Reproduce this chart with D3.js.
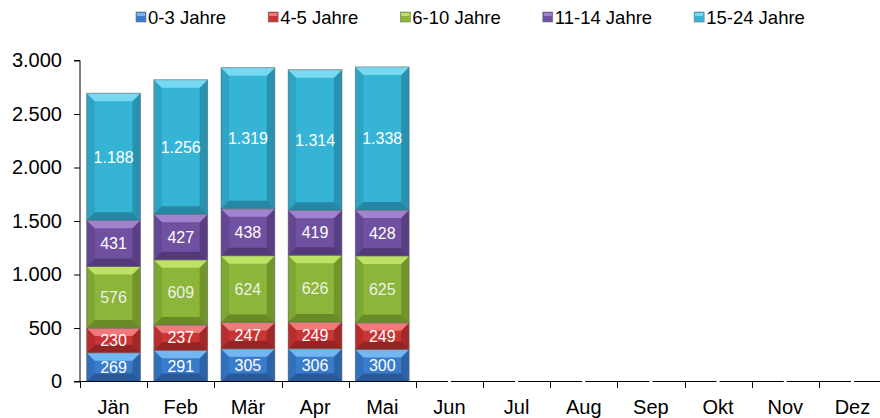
<!DOCTYPE html>
<html lang="de">
<head>
<meta charset="utf-8">
<title>Altersgruppen</title>
<script src="https://d3js.org/d3.v7.min.js"></script>
<style>
  body { margin: 0; background: #fff; }
  svg { font-family: "Liberation Sans", Arial, sans-serif; }
</style>
</head>
<body>
<script>
// data
var months = ["Jän", "Feb", "Mär", "Apr", "Mai", "Jun", "Jul", "Aug", "Sep", "Okt", "Nov", "Dez"];
var groups = ["0-3 Jahre", "4-5 Jahre", "6-10 Jahre", "11-14 Jahre", "15-24 Jahre"];
var age0to3 = [269, 291, 305, 306, 300];
var age4to5 = [230, 237, 247, 249, 249];
var age6to10 = [576, 609, 624, 626, 625];
var age11to14 = [431, 427, 438, 419, 428];
var age15to24 = [1188, 1256, 1319, 1314, 1338];
var yTicks = [0, 500, 1000, 1500, 2000, 2500, 3000];

// face / light / dark colours per series
var colors = [
  {face: "#3a7ccc", light: "#74b6f2", dark: "#28599a", side: "#3170bd"},
  {face: "#c93434", light: "#f07a7a", dark: "#952424", side: "#b82e2e"},
  {face: "#8cb63a", light: "#bde266", dark: "#688a27", side: "#7ea633"},
  {face: "#7050a0", light: "#a083cc", dark: "#523a78", side: "#654893"},
  {face: "#35b4d6", light: "#78daf2", dark: "#2587a3", side: "#2fa3c3"}
];
var labelColor = ["#fff", "#fff", "#eef0e6", "#fff", "#fff"];

var w = 880, h = 418;

var de = d3.formatLocale({decimal: ",", thousands: ".", grouping: [3], currency: ["€", ""]});
var fmt = de.format(",");

var svg = d3.select("body").append("svg")
  .attr("width", w)
  .attr("height", h);

var x = d3.scaleBand()
  .domain(months)
  .range([80, 886])
  .paddingInner(0.2)
  .paddingOuter(0.1);

var y = d3.scaleLinear()
  .domain([0, 3000])
  .range([381.5, 60.5]);

// stack table built from the arrays
var table = months.map(function (m, i) {
  return {
    month: m,
    s0: age0to3[i] || 0, s1: age4to5[i] || 0, s2: age6to10[i] || 0,
    s3: age11to14[i] || 0, s4: age15to24[i] || 0,
    has: age0to3[i] != null
  };
});
var stack = d3.stack().keys(["s0", "s1", "s2", "s3", "s4"]);
var series = stack(table);

// y axis
var yAxis = d3.axisLeft(y)
  .tickValues(yTicks)
  .tickSize(6)
  .tickPadding(12)
  .tickFormat(fmt);

svg.append("g")
  .attr("transform", "translate(80,0)")
  .call(yAxis)
  .call(function (g) {
    g.select(".domain").attr("stroke", "#000").attr("d", "M-6,60.5H0V381.5");
    g.selectAll("text").attr("font-size", 20).attr("fill", "#000")
      .attr("font-family", "Liberation Sans, Arial, sans-serif");
  });

// bars with bevel
function bevelSeg(g, x0, y0, bw, bh, c) {
  var b = Math.min(8, bh / 3, bw / 4);
  var x1 = x0 + bw, y1 = y0 + bh;
  g.append("rect").attr("x", x0).attr("y", y0).attr("width", bw).attr("height", bh)
    .attr("fill", c.face);
  // left side
  g.append("path").attr("fill", c.side)
    .attr("d", "M" + x0 + "," + y0 + "L" + (x0 + b) + "," + (y0 + b) + "L" + (x0 + b) + "," + (y1 - b) + "L" + x0 + "," + y1 + "Z");
  // right side
  g.append("path").attr("fill", c.dark).attr("opacity", 0.75)
    .attr("d", "M" + x1 + "," + y0 + "L" + (x1 - b) + "," + (y0 + b) + "L" + (x1 - b) + "," + (y1 - b) + "L" + x1 + "," + y1 + "Z");
  // top
  g.append("path").attr("fill", c.light)
    .attr("d", "M" + x0 + "," + y0 + "L" + x1 + "," + y0 + "L" + (x1 - b) + "," + (y0 + b) + "L" + (x0 + b) + "," + (y0 + b) + "Z");
  // bottom
  g.append("path").attr("fill", c.dark)
    .attr("d", "M" + x0 + "," + y1 + "L" + x1 + "," + y1 + "L" + (x1 - b) + "," + (y1 - b) + "L" + (x0 + b) + "," + (y1 - b) + "Z");
  g.append("rect").attr("x", x0).attr("y", y0).attr("width", bw).attr("height", bh)
    .attr("fill", "none").attr("stroke", "#6d6d6d").attr("stroke-opacity", 0.6).attr("stroke-width", 1);
}

series.forEach(function (s, si) {
  var g = svg.append("g").attr("class", "series-" + si);
  s.forEach(function (d) {
    if (!d.data.has) return;
    var x0 = x(d.data.month), y0 = y(d[1]), y1 = y(d[0]);
    bevelSeg(g, x0, y0, x.bandwidth(), y1 - y0, colors[si]);
    g.append("text")
      .attr("x", x0 + x.bandwidth() / 2)
      .attr("y", (y0 + y1) / 2)
      .attr("dy", "0.36em")
      .attr("text-anchor", "middle")
      .attr("font-size", 16)
      .attr("fill", labelColor[si])
      .text(fmt(d[1] - d[0]));
  });
});

// x axis
var xa = svg.append("g");
xa.append("line")
  .attr("x1", 74).attr("x2", 886)
  .attr("y1", 381.5).attr("y2", 381.5)
  .attr("stroke", "#000");
months.forEach(function (m) {
  var bx = Math.round(x(m) - x.step() * x.paddingOuter()) + 0.5;
  xa.append("line")
    .attr("x1", bx).attr("x2", bx)
    .attr("y1", 381.5).attr("y2", 388)
    .attr("stroke", "#000");
  xa.append("text")
    .attr("x", x(m) + x.bandwidth() / 2)
    .attr("y", 414)
    .attr("text-anchor", "middle")
    .attr("font-size", 20)
    .text(m);
});
// empty months: little white gap on the axis
table.filter(function (d) { return !d.has; }).forEach(function (d) {
  xa.append("rect")
    .attr("x", x(d.month) + x.bandwidth() / 2 - 1.5)
    .attr("y", 380.5)
    .attr("width", 3).attr("height", 2)
    .attr("fill", "#fff");
});

// legend
var legend = svg.append("g").attr("transform", "translate(0,17)");
var lx = 136;
groups.forEach(function (name, i) {
  var item = legend.append("g").attr("transform", "translate(" + lx + ",0)");
  item.append("rect")
    .attr("x", 0).attr("y", -5).attr("width", 10).attr("height", 10)
    .attr("fill", colors[i].face).attr("stroke", "#777").attr("stroke-width", 0.6);
  item.append("rect")
    .attr("x", 1).attr("y", -4).attr("width", 8).attr("height", 3)
    .attr("fill", colors[i].light);
  var t = item.append("text")
    .attr("x", 12).attr("y", 0)
    .attr("dy", "0.36em")
    .attr("font-size", 18.5)
    .text(name);
  lx += 12 + t.node().getComputedTextLength() + 42;
});
</script>
</body>
</html>
